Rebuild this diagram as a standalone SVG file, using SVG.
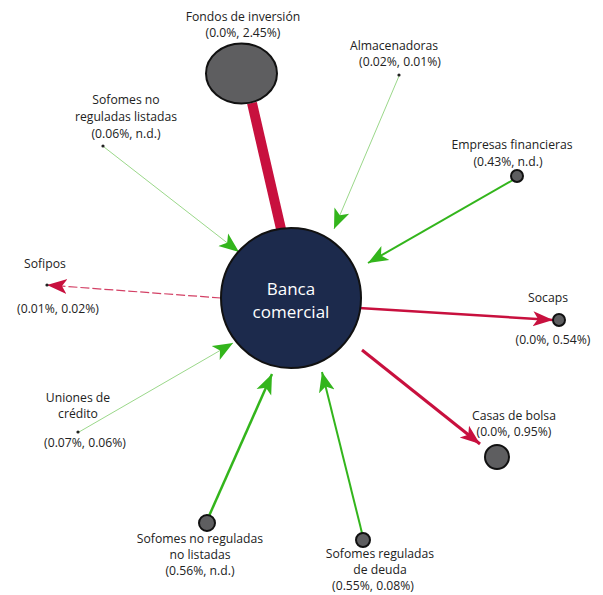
<svg xmlns="http://www.w3.org/2000/svg" width="603" height="595" viewBox="0 0 603 595">
<style>
text{font-family:"Open Sans","Noto Sans","Liberation Sans",sans-serif;font-size:12.2px;fill:#222;text-anchor:middle}
.node{fill:#5e5e60;stroke:#111;stroke-width:2}
.dot{fill:#222}
.g{stroke:#33b51c;fill:none}
.gt{stroke:#9bd88a;fill:none;stroke-width:1}
.r{stroke:#c8103e;fill:none}
</style>
<defs>
<marker id="ag" markerUnits="userSpaceOnUse" markerWidth="22" markerHeight="18" refX="20" refY="9" orient="auto" viewBox="0 0 22 18">
<path d="M0,1 L20,9 L0,17 L5,9 z" fill="#33b51c"/>
</marker>
<marker id="ar" markerUnits="userSpaceOnUse" markerWidth="22" markerHeight="18" refX="20" refY="9" orient="auto" viewBox="0 0 22 18">
<path d="M0,1.5 L20,9 L0,16.5 L5,9 z" fill="#c8103e"/>
</marker>
</defs>
<g id="connectors">
<line x1="281" y1="229" x2="252" y2="103" class="r" stroke-width="10"/>
<line x1="399" y1="76" x2="334" y2="229" class="gt" marker-end="url(#ag)"/>
<line x1="104" y1="147" x2="239" y2="252" class="gt" marker-end="url(#ag)"/>
<line x1="513" y1="180" x2="368" y2="263" class="g" stroke-width="2" marker-end="url(#ag)"/>
<line x1="221" y1="298" x2="47" y2="285" class="r" stroke-width="1.2" stroke-dasharray="9 3" stroke-opacity="0.8" marker-end="url(#ar)"/>
<line x1="359" y1="308" x2="553" y2="320" class="r" stroke-width="2.5" marker-end="url(#ar)"/>
<line x1="362" y1="350" x2="480" y2="444" class="r" stroke-width="3" marker-end="url(#ar)"/>
<line x1="79" y1="432" x2="233" y2="343" class="gt" marker-end="url(#ag)"/>
<line x1="209" y1="516" x2="272" y2="374" class="g" stroke-width="2.5" marker-end="url(#ag)"/>
<line x1="362" y1="533" x2="322" y2="372" class="g" stroke-width="2" marker-end="url(#ag)"/>
</g>
<g id="banca">
<circle cx="291" cy="298" r="70" fill="#1c2a4c" stroke="#111" stroke-width="2"/>
<text x="291" y="295" style="font-size:17px;fill:#fff">Banca</text>
<text x="291" y="318" style="font-size:17px;fill:#fff">comercial</text>
</g>
<g id="fondos">
<ellipse cx="241.5" cy="73.5" rx="35.5" ry="30" class="node"/>
<text x="243" y="21">Fondos de inversión</text>
<text x="243" y="37">(0.0%, 2.45%)</text>
</g>
<g id="almacenadoras">
<circle cx="399" cy="75" r="1.6" class="dot"/>
<text x="394" y="50">Almacenadoras</text>
<text x="400" y="66">(0.02%, 0.01%)</text>
</g>
<g id="sofomes-listadas">
<circle cx="103" cy="146" r="1.6" class="dot"/>
<text x="126" y="104">Sofomes no</text>
<text x="126" y="121">reguladas listadas</text>
<text x="126" y="138">(0.06%, n.d.)</text>
</g>
<g id="empresas">
<circle cx="517" cy="176" r="6" class="node"/>
<text x="512" y="149">Empresas financieras</text>
<text x="508" y="165.5">(0.43%, n.d.)</text>
</g>
<g id="sofipos">
<circle cx="47" cy="285" r="1.6" class="dot"/>
<text x="45" y="268">Sofipos</text>
<text x="58" y="313">(0.01%, 0.02%)</text>
</g>
<g id="socaps">
<circle cx="559" cy="320" r="6" class="node"/>
<text x="548" y="302">Socaps</text>
<text x="553" y="344">(0.0%, 0.54%)</text>
</g>
<g id="casas">
<circle cx="497" cy="457" r="12" class="node"/>
<text x="514" y="420">Casas de bolsa</text>
<text x="514" y="436">(0.0%, 0.95%)</text>
</g>
<g id="uniones">
<circle cx="78" cy="432" r="1.6" class="dot"/>
<text x="78" y="402">Uniones de</text>
<text x="78" y="418">crédito</text>
<text x="85" y="447">(0.07%, 0.06%)</text>
</g>
<g id="sofomes-no-listadas">
<circle cx="207" cy="523" r="8" class="node"/>
<text x="200" y="543">Sofomes no reguladas</text>
<text x="200" y="559">no listadas</text>
<text x="200" y="575">(0.56%, n.d.)</text>
</g>
<g id="sofomes-deuda">
<circle cx="363" cy="540" r="7" class="node"/>
<text x="380" y="558">Sofomes reguladas</text>
<text x="380" y="574">de deuda</text>
<text x="373" y="590">(0.55%, 0.08%)</text>
</g>
</svg>
